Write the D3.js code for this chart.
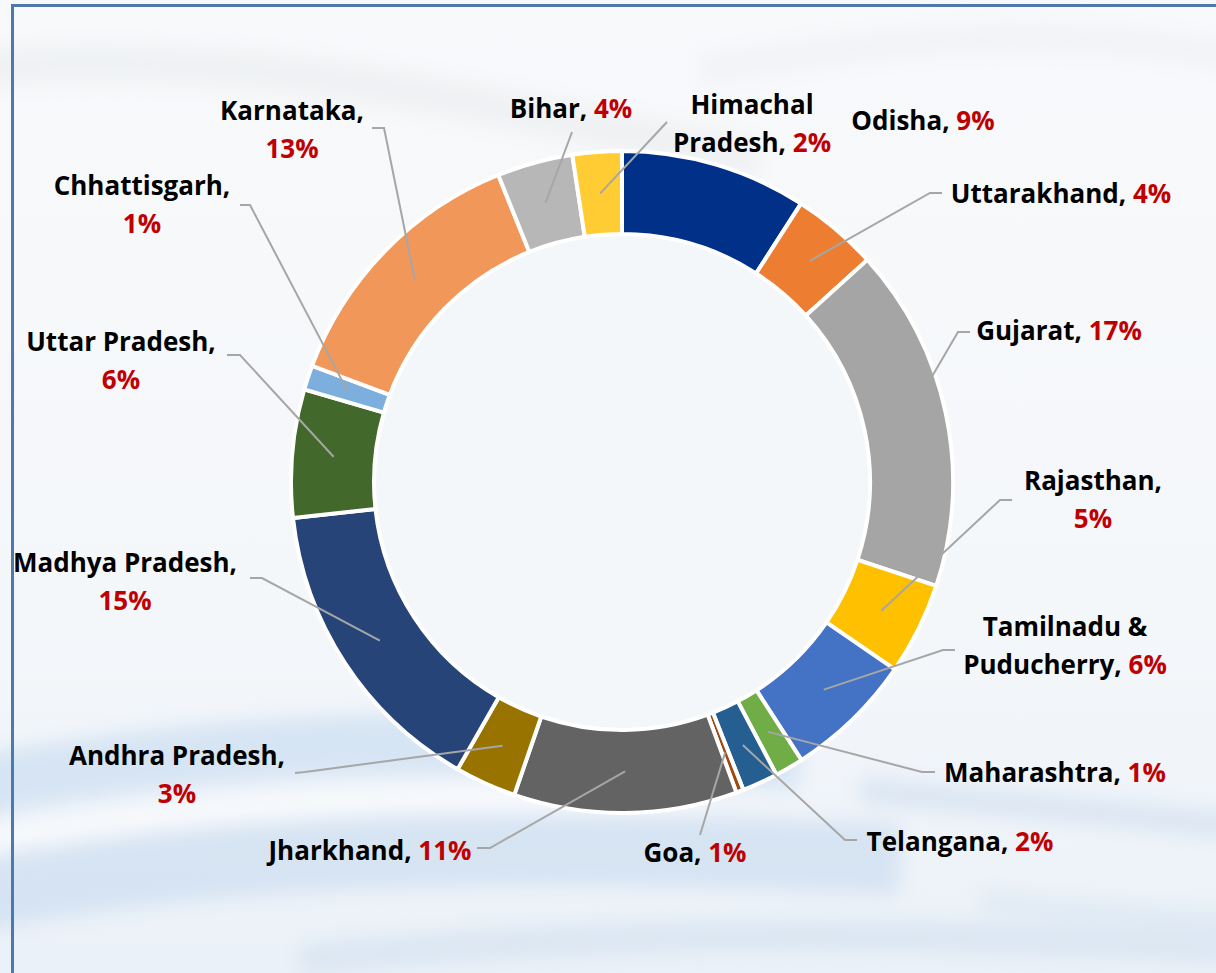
<!DOCTYPE html>
<html>
<head>
<meta charset="utf-8">
<script src="https://cdn.jsdelivr.net/npm/d3@7"></script>
<style>
  html, body { margin: 0; padding: 0; background: #ffffff; }
  svg { display: block; }
  text { font-family: "Open Sans", Lato, sans-serif; font-weight: 700; }
</style>
</head>
<body>
<svg id="chart" width="1216" height="973"></svg>
<script>
// states, clockwise from 12 o'clock
const states = ["Odisha", "Uttarakhand", "Gujarat", "Rajasthan", "Tamilnadu & Puducherry",
  "Maharashtra", "Telangana", "Goa", "Jharkhand", "Andhra Pradesh", "Madhya Pradesh",
  "Uttar Pradesh", "Chhattisgarh", "Karnataka", "Bihar", "Himachal Pradesh"];
// share of total (%)
const shares = [9.1, 4.2, 16.8, 4.5, 6.3, 1.4, 1.75, 0.36, 10.9, 3.0, 15.0, 6.25, 1.2, 13.2, 3.7, 2.4];
// percentages as printed on the labels
const pctLabels = ["9%", "4%", "17%", "5%", "6%", "1%", "2%", "1%", "11%", "3%", "15%", "6%", "1%", "13%", "4%", "2%"];
const colors = ["#003087", "#ed7d31", "#a5a5a5", "#ffc000", "#4472c4", "#70ad47", "#255e91", "#9e480e",
  "#636363", "#997300", "#264478", "#43682b", "#7cafdd", "#f1975a", "#b7b7b7", "#ffcd33"];

// label layout: line texts, center x, baseline of first line, and leader elbow points
const labelLayout = [
  { lines: [["Odisha, ", 0]], x: 923, y: 130, elbow: null },
  { lines: [["Uttarakhand, ", 0]], x: 1061, y: 203, elbow: [[942, 193], [930, 193]] },
  { lines: [["Gujarat, ", 0]], x: 1059, y: 340, elbow: [[970, 332], [958, 332]] },
  { lines: [["Rajasthan,", 1], ["", 0]], x: 1093, y: 490, elbow: [[1012, 500], [1000, 500]] },
  { lines: [["Tamilnadu &", 1], ["Puducherry, ", 0]], x: 1065, y: 636, elbow: [[955, 650], [943, 650]] },
  { lines: [["Maharashtra, ", 0]], x: 1055, y: 782, elbow: [[935, 772], [922, 772]] },
  { lines: [["Telangana, ", 0]], x: 960, y: 851, elbow: [[857, 840], [845, 840]] },
  { lines: [["Goa, ", 0]], x: 695, y: 862, elbow: [[700, 835]] },
  { lines: [["Jharkhand, ", 0]], x: 370, y: 860, elbow: [[477, 848], [490, 848]] },
  { lines: [["Andhra Pradesh,", 1], ["", 0]], x: 177, y: 765, elbow: [[295, 773], [305, 772]] },
  { lines: [["Madhya Pradesh,", 1], ["", 0]], x: 125, y: 572, elbow: [[250, 578], [262, 578]] },
  { lines: [["Uttar Pradesh,", 1], ["", 0]], x: 121, y: 351, elbow: [[227, 355], [240, 355]] },
  { lines: [["Chhattisgarh,", 1], ["", 0]], x: 142, y: 195, elbow: [[240, 205], [250, 205]] },
  { lines: [["Karnataka,", 1], ["", 0]], x: 292, y: 120, elbow: [[372, 128], [384, 128]] },
  { lines: [["Bihar, ", 0]], x: 571, y: 118, elbow: [[572, 132]] },
  { lines: [["Himachal", 1], ["Pradesh, ", 0]], x: 752, y: 114, elbow: [[667, 122]] }
];

const svg = d3.select("#chart");
const W = 1216, H = 973;
const cx = 622, cy = 482;
const outerR = 331, innerR = 248;
const lineGap = 38;

// ---- background ----
const defs = svg.append("defs");
const bg = defs.append("linearGradient").attr("id", "bg").attr("x1", 0).attr("y1", 0).attr("x2", 0).attr("y2", 1);
bg.append("stop").attr("offset", "0%").attr("stop-color", "#f8f9fb");
bg.append("stop").attr("offset", "65%").attr("stop-color", "#f4f7fa");
bg.append("stop").attr("offset", "100%").attr("stop-color", "#ebf1f8");
defs.append("filter").attr("id", "blur").attr("x", "-20%").attr("y", "-50%").attr("width", "140%").attr("height", "200%")
  .append("feGaussianBlur").attr("stdDeviation", 10);

svg.append("rect").attr("width", W).attr("height", H).attr("fill", "url(#bg)");

const swooshes = [
  { d: "M-40,70 C250,40 500,110 760,160", w: 40, c: "#e9ecef", o: 0.6 },
  { d: "M700,70 C900,40 1050,20 1250,60", w: 30, c: "#eceef1", o: 0.5 },
  { d: "M-40,790 C200,740 500,730 800,760", w: 60, c: "#cddff1", o: 0.75 },
  { d: "M-40,900 C200,850 500,840 900,860", w: 70, c: "#c9dbef", o: 0.65 },
  { d: "M-40,845 C200,800 450,790 700,800", w: 12, c: "#ffffff", o: 0.9 },
  { d: "M300,960 C600,930 900,930 1260,950", w: 30, c: "#d3e1f0", o: 0.7 },
  { d: "M860,790 C950,800 1100,810 1260,830", w: 26, c: "#d1e0f0", o: 0.7 },
  { d: "M980,900 C1050,910 1150,915 1260,925", w: 20, c: "#d8e5f2", o: 0.7 }
];
svg.append("g").attr("filter", "url(#blur)")
  .selectAll("path").data(swooshes).join("path")
  .attr("d", d => d.d).attr("fill", "none")
  .attr("stroke", d => d.c).attr("stroke-width", d => d.w).attr("stroke-opacity", d => d.o);

// frame
svg.append("path").attr("d", "M12.5,980 V5.5 H1230").attr("fill", "none")
  .attr("stroke", "#4f79ad").attr("stroke-width", 3);

// ---- donut ----
const data = states.map((s, i) => ({ state: s, value: shares[i], pct: pctLabels[i], color: colors[i], layout: labelLayout[i] }));
const pie = d3.pie().sort(null).value(d => d.value);
const arc = d3.arc().innerRadius(innerR).outerRadius(outerR);
const midArc = d3.arc().innerRadius((innerR + outerR) / 2).outerRadius((innerR + outerR) / 2);
const arcs = pie(data);

const g = svg.append("g").attr("transform", `translate(${cx},${cy})`);
g.append("circle").attr("r", innerR).attr("fill", "#f4f7fa");
g.selectAll("path.slice").data(arcs).join("path")
  .attr("class", "slice")
  .attr("d", arc)
  .attr("fill", d => d.data.color)
  .attr("stroke", "#ffffff")
  .attr("stroke-width", 4)
  .attr("stroke-linejoin", "miter");

// ---- leader lines ----
arcs.forEach(d => {
  const el = d.data.layout.elbow;
  if (!el) return;
  const [mx, my] = midArc.centroid(d);
  const pts = el.concat([[mx + cx, my + cy]]);
  svg.append("path")
    .attr("d", d3.line()(pts))
    .attr("fill", "none")
    .attr("stroke", "#a6a6a6")
    .attr("stroke-width", 2);
});

// ---- labels ----
arcs.forEach(d => {
  const L = d.data.layout;
  L.lines.forEach(([txt, nameOnly], k) => {
    const t = svg.append("text")
      .attr("x", L.x)
      .attr("y", L.y + k * lineGap)
      .attr("text-anchor", "middle")
      .attr("font-size", 26);
    if (txt) t.append("tspan").attr("fill", "#000000").text(txt);
    if (!nameOnly) t.append("tspan").attr("fill", "#c00000").text(d.data.pct);
  });
});
</script>
</body>
</html>
